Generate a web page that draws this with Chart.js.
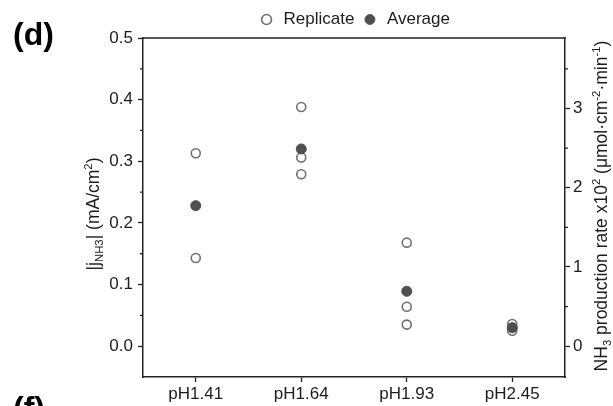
<!DOCTYPE html>
<html>
<head>
<meta charset="utf-8">
<script src="https://cdn.jsdelivr.net/npm/chart.js@4.4.1/dist/chart.umd.min.js"></script>
<style>
  html, body { margin: 0; padding: 0; background: #fff; }
  #wrap { width: 613px; height: 406px; position: relative; }
</style>
</head>
<body>
<div id="wrap"><canvas id="chart" width="613" height="406"></canvas></div>
<script>
// pH conditions on the x axis
const categories = ['pH1.41', 'pH1.64', 'pH1.93', 'pH2.45'];
// individual replicate measurements of |j_NH3| (mA/cm²), one list per pH
const replicateValues = [
  [0.313, 0.143],
  [0.388, 0.306, 0.279],
  [0.168, 0.064, 0.035],
  [0.036, 0.030, 0.025]
];
// mean of the replicates for each pH (mA/cm²)
const averageValues = [0.228, 0.320, 0.089, 0.030];

// left axis: current density
const leftMin = -0.05;
const leftMax = 0.5;
const leftTicks = [0.0, 0.1, 0.2, 0.3, 0.4, 0.5];
const leftMinorTicks = [0.05, 0.15, 0.25, 0.35, 0.45];
// right axis: NH3 production rate x10^2 (µmol·cm^-2·min^-1)
const rateTicks = [0, 1, 2, 3];
const rateMinorTicks = [0.5, 1.5, 2.5, 3.5];
// mA/cm² per unit of the right-hand axis
const currentPerRateUnit = 0.1285;

const textColor = '#1c1c1c';
const axisColor = '#222';
const fontFamily = '"Liberation Sans", Arial, sans-serif';

const replicatePoints = [];
replicateValues.forEach((vals, i) => vals.forEach(v => replicatePoints.push({ x: categories[i], y: v })));
const averagePoints = averageValues.map((v, i) => ({ x: categories[i], y: v }));

// draws a rotated axis title made of normal, subscript and superscript runs
function drawRichVertical(ctx, parts, cx, cy, size) {
  ctx.save();
  ctx.translate(cx, cy);
  ctx.rotate(-Math.PI / 2);
  ctx.fillStyle = textColor;
  ctx.textBaseline = 'alphabetic';
  ctx.textAlign = 'left';
  const fontFor = p => (p.sub || p.sup ? size * 0.65 : size) + 'px ' + fontFamily;
  let total = 0;
  const widths = parts.map(p => { ctx.font = fontFor(p); const w = ctx.measureText(p.t).width; total += w; return w; });
  let x = -total / 2;
  const base = size * 0.36;
  parts.forEach((p, i) => {
    ctx.font = fontFor(p);
    const dy = p.sub ? size * 0.22 : (p.sup ? -size * 0.42 : 0);
    ctx.fillText(p.t, x, base + dy);
    x += widths[i];
  });
  ctx.restore();
}

const framePlugin = {
  id: 'frame',
  afterDraw(chart) {
    const { ctx, chartArea: a, scales } = chart;
    ctx.save();
    // top edge of the frame
    ctx.strokeStyle = axisColor;
    ctx.lineWidth = 1.5;
    ctx.beginPath();
    ctx.moveTo(a.left - 0.75, a.top);
    ctx.lineTo(a.right + 0.75, a.top);
    ctx.stroke();
    // minor ticks
    ctx.lineWidth = 1.3;
    ctx.beginPath();
    leftMinorTicks.forEach(v => {
      const y = scales.y.getPixelForValue(v);
      ctx.moveTo(a.left, y); ctx.lineTo(a.left - 3, y);
    });
    rateMinorTicks.forEach(v => {
      const y = scales.y1.getPixelForValue(v);
      ctx.moveTo(a.right, y); ctx.lineTo(a.right + 3, y);
    });
    ctx.stroke();
    ctx.restore();

    // axis titles
    drawRichVertical(ctx, [
      { t: '|j' }, { t: 'NH3', sub: true }, { t: '| (mA/cm' }, { t: '2', sup: true }, { t: ')' }
    ], 93, 214, 17.5);
    drawRichVertical(ctx, [
      { t: 'NH' }, { t: '3', sub: true }, { t: ' production rate x10' }, { t: '2', sup: true },
      { t: ' (\u03bcmol\u00b7cm' }, { t: '-2', sup: true }, { t: '\u00b7min' }, { t: '-1', sup: true }, { t: ')' }
    ], 601, 206, 17.5);

    // panel letters
    ctx.save();
    ctx.fillStyle = '#000';
    ctx.font = 'bold 32px ' + fontFamily;
    ctx.textBaseline = 'alphabetic';
    ctx.fillText('(d)', 13, 45);
    ctx.fillText('(f)', 13, 419);
    ctx.restore();
  }
};

const tickFont = { family: fontFamily, size: 17 };

new Chart(document.getElementById('chart'), {
  type: 'line',
  data: {
    labels: categories,
    datasets: [
      {
        label: 'Replicate',
        data: replicatePoints,
        showLine: false,
        pointStyle: 'circle',
        pointRadius: 4.5,
        pointBorderWidth: 1.6,
        borderWidth: 1.6,
        borderColor: '#6f6f6f',
        backgroundColor: '#ffffff',
        order: 1
      },
      {
        label: 'Average',
        data: averagePoints,
        showLine: false,
        pointStyle: 'circle',
        pointRadius: 5,
        pointBorderWidth: 1,
        borderWidth: 1,
        borderColor: '#4f4f4f',
        backgroundColor: '#4f4f4f',
        order: 0
      }
    ]
  },
  options: {
    responsive: false,
    animation: false,
    devicePixelRatio: 1,
    layout: { padding: { top: 4, left: 0, right: 0, bottom: 0 } },
    plugins: {
      tooltip: { enabled: false },
      legend: {
        display: true,
        position: 'top',
        fullSize: false,
        labels: {
          usePointStyle: true,
          boxHeight: 7,
          padding: 7,
          color: textColor,
          font: { family: fontFamily, size: 17 },
          sort: (a, b) => a.datasetIndex - b.datasetIndex
        }
      }
    },
    scales: {
      x: {
        type: 'category',
        offset: true,
        grid: { display: true, drawOnChartArea: false, drawTicks: true, tickLength: 5, tickColor: axisColor, tickWidth: 1.3 },
        border: { display: true, color: axisColor, width: 1.5 },
        ticks: { color: textColor, font: tickFont, padding: 2, maxRotation: 0 },
        afterFit: s => { s.height = 29; }
      },
      y: {
        position: 'left',
        min: leftMin,
        max: leftMax,
        afterBuildTicks: s => { s.ticks = leftTicks.map(v => ({ value: v })); },
        grid: { display: true, drawOnChartArea: false, drawTicks: true, tickLength: 5, tickColor: axisColor, tickWidth: 1.3 },
        border: { display: true, color: axisColor, width: 1.5 },
        ticks: { color: textColor, font: tickFont, padding: 5, callback: v => Number(v).toFixed(1) },
        afterFit: s => { s.width = 143; }
      },
      y1: {
        position: 'right',
        min: leftMin / currentPerRateUnit,
        max: leftMax / currentPerRateUnit,
        afterBuildTicks: s => { s.ticks = rateTicks.map(v => ({ value: v })); },
        grid: { display: true, drawOnChartArea: false, drawTicks: true, tickLength: 5, tickColor: axisColor, tickWidth: 1.3 },
        border: { display: true, color: axisColor, width: 1.5 },
        ticks: { color: textColor, font: tickFont, padding: 3, callback: v => String(Math.round(v)) },
        afterFit: s => { s.width = 48; }
      }
    }
  },
  plugins: [framePlugin]
});
</script>
</body>
</html>
